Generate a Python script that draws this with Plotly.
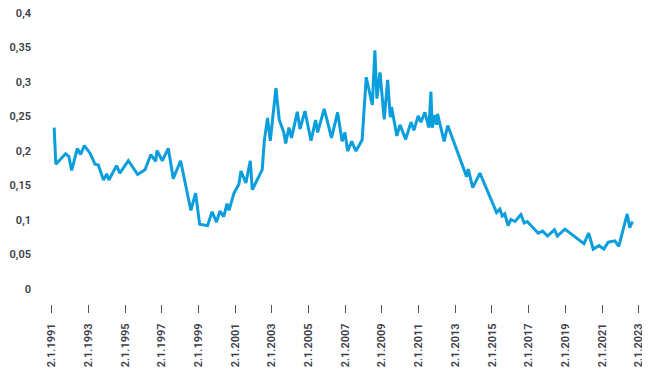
import plotly.graph_objects as go

dates = [
    "1991-02-20", "1991-03-25", "1991-10-05", "1991-12-10", "1992-02-03", "1992-05-27",
    "1992-07-30", "1992-10-12", "1993-02-03", "1993-05-12", "1993-07-16", "1993-10-30",
    "1994-01-01", "1994-02-14", "1994-07-16", "1994-09-20", "1995-03-08", "1995-09-09",
    "1996-02-03", "1996-05-30", "1996-09-02", "1996-09-28", "1997-01-12", "1997-05-12",
    "1997-08-18", "1998-01-12", "1998-08-04", "1998-11-06", "1999-01-26", "1999-07-02",
    "1999-10-01", "1999-12-28", "2000-03-03", "2000-05-19", "2000-07-24", "2000-09-02",
    "2000-12-09", "2001-03-17", "2001-04-27", "2001-08-04", "2001-10-30", "2001-12-09",
    "2002-06-25", "2002-08-04", "2002-10-08", "2002-12-02", "2003-03-25", "2003-05-30",
    "2003-08-29", "2003-10-05", "2003-12-09", "2004-01-30", "2004-05-23", "2004-07-16",
    "2004-10-23", "2005-02-20", "2005-05-23", "2005-07-02", "2005-11-10", "2006-04-05",
    "2006-08-04", "2006-11-03", "2006-12-28", "2007-02-20", "2007-05-12", "2007-08-04",
    "2007-12-05", "2008-02-25", "2008-06-25", "2008-08-15", "2008-09-24", "2008-11-25",
    "2009-02-17", "2009-04-27", "2009-06-17", "2009-07-12", "2009-10-27", "2009-12-28",
    "2010-04-20", "2010-08-04", "2010-10-01", "2010-12-25", "2011-02-17", "2011-05-08",
    "2011-07-27", "2011-09-05", "2011-10-01", "2011-11-25", "2011-12-28", "2012-01-15",
    "2012-05-25", "2012-08-05", "2013-08-15", "2013-09-17", "2013-12-15", "2014-05-08",
    "2015-04-05", "2015-06-10", "2015-07-25", "2015-09-15", "2015-11-20", "2016-01-15",
    "2016-04-05", "2016-08-01", "2016-10-05", "2016-12-05", "2017-07-12", "2017-10-08",
    "2018-01-12", "2018-05-30", "2018-07-28", "2018-12-25", "2020-01-08", "2020-04-12",
    "2020-07-10", "2020-11-05", "2021-02-08", "2021-05-05", "2021-09-15", "2021-12-02",
    "2022-05-18", "2022-07-08", "2022-09-01",
]

values = [
    0.234, 0.181, 0.196, 0.192, 0.172, 0.204,
    0.195, 0.208, 0.197, 0.181, 0.180, 0.158,
    0.167, 0.158, 0.179, 0.168, 0.186, 0.166,
    0.173, 0.195, 0.185, 0.201, 0.186, 0.204,
    0.160, 0.186, 0.114, 0.139, 0.094, 0.092,
    0.112, 0.097, 0.113, 0.105, 0.124, 0.114,
    0.139, 0.152, 0.171, 0.154, 0.186, 0.144,
    0.173, 0.214, 0.248, 0.215, 0.291, 0.245,
    0.227, 0.211, 0.234, 0.219, 0.257, 0.232,
    0.258, 0.215, 0.245, 0.227, 0.261, 0.219,
    0.256, 0.214, 0.227, 0.200, 0.214, 0.200,
    0.216, 0.307, 0.267, 0.346, 0.276, 0.314,
    0.246, 0.303, 0.249, 0.264, 0.222, 0.238,
    0.217, 0.242, 0.230, 0.251, 0.242, 0.256,
    0.234, 0.286, 0.234, 0.252, 0.238, 0.254,
    0.214, 0.237, 0.163, 0.174, 0.147, 0.168,
    0.111, 0.116, 0.106, 0.109, 0.092, 0.101,
    0.098, 0.108, 0.096, 0.098, 0.081, 0.084,
    0.077, 0.086, 0.077, 0.087, 0.066, 0.081,
    0.058, 0.063, 0.058, 0.068, 0.070, 0.062,
    0.109, 0.089, 0.098,
]

tick_years = list(range(1991, 2024, 2))
x_tickvals = [f"{y}-01-02" for y in tick_years]
x_ticktext = [f"2.1.{y}" for y in tick_years]

y_tickvals = [0, 0.05, 0.1, 0.15, 0.2, 0.25, 0.3, 0.35, 0.4]
y_ticktext = ["0", "0,05", "0,1", "0,15", "0,2", "0,25", "0,3", "0,35", "0,4"]

text_color = "#3b3d4a"
line_color = "#0a9fdc"

fig = go.Figure(
    go.Scatter(
        x=dates,
        y=values,
        mode="lines",
        line=dict(color=line_color, width=3),
        hoverinfo="x+y",
    )
)

# page body has an 8px margin, so the figure is sized 642x376
fig.update_layout(
    width=642,
    height=376,
    margin=dict(l=42, r=8, t=5, b=80),
    paper_bgcolor="white",
    plot_bgcolor="white",
    showlegend=False,
    font=dict(family="Roboto", size=11, color=text_color, weight=600),
)

fig.update_xaxes(
    type="date",
    range=["1990-11-29", "2023-03-09"],
    tickmode="array",
    tickvals=x_tickvals,
    ticktext=x_ticktext,
    tickangle=-90,
    ticks="outside",
    ticklen=8,
    tickwidth=1,
    tickcolor="#555555",
    ticklabelstandoff=6,
    showgrid=False,
    showline=False,
    zeroline=False,
    automargin=False,
)

fig.update_yaxes(
    range=[-0.0215, 0.4],
    tickmode="array",
    tickvals=y_tickvals,
    ticktext=y_ticktext,
    ticklabelstandoff=18,
    ticklabeloverflow="allow",
    showgrid=False,
    showline=False,
    zeroline=False,
    automargin=False,
)

fig.write_html("out.html")
